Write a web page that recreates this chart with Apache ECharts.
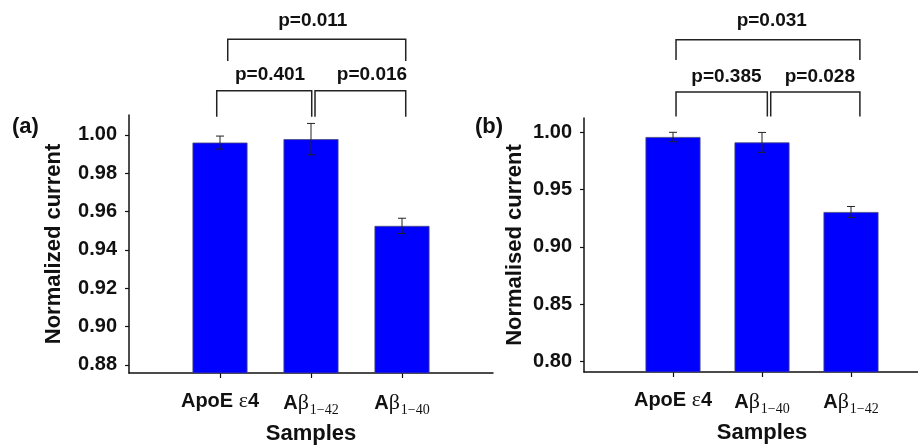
<!DOCTYPE html>
<html>
<head>
<meta charset="utf-8">
<script src="https://cdn.jsdelivr.net/npm/echarts@6/dist/echarts.min.js"></script>
<style>
  html, body { margin: 0; padding: 0; background: #fff; }
  #chart { width: 918px; height: 445px; }
</style>
</head>
<body>
<div id="chart"></div>
<script>
// panel (a)
const catsA = ['ApoE ε4', 'Aβ1-42', 'Aβ1-40'];
const valuesA = [0.996, 0.9978, 0.9525];
const errorsA = [0.0034, 0.0082, 0.004];
const ticksA = [0.88, 0.90, 0.92, 0.94, 0.96, 0.98, 1.00];
// brackets: [x from, x to, y top, y foot, label, label x]
const bracketsA = [
  [0.964, 2.008, 1.0231, 1.0095, 'p=0.401', 1.55],
  [2.044, 3.041, 1.0231, 1.0095, 'p=0.016', 2.67],
  [1.085, 3.041, 1.0499, 1.0386, 'p=0.011', 2.02]
];

// panel (b)
const catsB = ['ApoE ε4', 'Aβ1-40', 'Aβ1-42'];
const valuesB = [0.996, 0.9913, 0.9305];
const errorsB = [0.0041, 0.0087, 0.0048];
const ticksB = [0.80, 0.85, 0.90, 0.95, 1.00];
const bracketsB = [
  [1.034, 2.060, 1.0353, 1.0140, 'p=0.385', 1.60],
  [2.098, 3.100, 1.0353, 1.0140, 'p=0.028', 2.65],
  [1.034, 3.100, 1.0810, 1.0633, 'p=0.031', 2.11]
];

const BOLD = 'Liberation Sans';
const SERIF = 'Liberation Serif';
const INK = '#111';

function catLabel(name) {
  if (name.indexOf('ε') >= 0) return '{b|ApoE }{g|ε}{b|4}';
  const sub = name.split('β')[1].replace('-', '\u2212');
  return '{b|A}{g|β}{s|' + sub + '}';
}

const richX = {
  b: { fontFamily: BOLD, fontWeight: 'bold', fontSize: 20, color: INK },
  g: { fontFamily: SERIF, fontSize: 22, color: INK },
  s: { fontFamily: SERIF, fontSize: 14, color: INK, padding: [13, 0, 0, 1] }
};

function xAxisFor(gi, cats) {
  return {
    type: 'value', gridIndex: gi, min: 0, max: 4,
    name: 'Samples', nameLocation: 'middle', nameGap: 50,
    nameTextStyle: { fontFamily: BOLD, fontWeight: 'bold', fontSize: 22, color: INK },
    axisLine: { lineStyle: { color: INK, width: 1.5 } },
    axisTick: { customValues: [1, 2, 3], length: 5, lineStyle: { color: INK, width: 1.2 } },
    axisLabel: {
      customValues: [1, 2, 3], margin: 17, rich: richX,
      formatter: v => catLabel(cats[Math.round(v) - 1])
    },
    splitLine: { show: false }
  };
}

function yAxisFor(gi, ticks, min, max, name, gap) {
  return {
    type: 'value', gridIndex: gi, min: min, max: max,
    name: name, nameLocation: 'middle', nameGap: gap, nameRotate: 90,
    nameTextStyle: { fontFamily: BOLD, fontWeight: 'bold', fontSize: 22, color: INK },
    axisLine: { show: true, lineStyle: { color: INK, width: 1.5 } },
    axisTick: { customValues: ticks, length: 4, lineStyle: { color: INK, width: 1.2 } },
    axisLabel: {
      customValues: ticks, margin: 12,
      fontFamily: BOLD, fontWeight: 'bold', fontSize: 20, color: INK,
      formatter: v => v.toFixed(2)
    },
    splitLine: { show: false }
  };
}

function barSeries(gi, values) {
  return {
    type: 'bar', xAxisIndex: gi, yAxisIndex: gi, barWidth: 55,
    data: values.map((v, i) => [i + 1, v]),
    itemStyle: { color: '#0000ff', borderColor: '#4a4a7a', borderWidth: 0.8 },
    animation: false
  };
}

function errorSeries(gi, values, errors) {
  return {
    type: 'custom', xAxisIndex: gi, yAxisIndex: gi, z: 5,
    data: values.map((v, i) => [i + 1, v - errors[i], v + errors[i]]),
    renderItem: (params, api) => {
      const lo = api.coord([api.value(0), api.value(1)]);
      const hi = api.coord([api.value(0), api.value(2)]);
      const w = 4;
      const st = { stroke: '#222', lineWidth: 1 };
      return {
        type: 'group', children: [
          { type: 'line', shape: { x1: lo[0], y1: lo[1], x2: hi[0], y2: hi[1] }, style: st },
          { type: 'line', shape: { x1: lo[0] - w, y1: lo[1], x2: lo[0] + w, y2: lo[1] }, style: st },
          { type: 'line', shape: { x1: hi[0] - w, y1: hi[1], x2: hi[0] + w, y2: hi[1] }, style: st }
        ]
      };
    },
    animation: false
  };
}

function bracketSeries(gi, brackets) {
  return {
    type: 'custom', xAxisIndex: gi, yAxisIndex: gi, clip: false, z: 6,
    data: brackets.map(b => [b[0], b[1], b[2], b[3], b[5]]),
    renderItem: (params, api) => {
      const b = brackets[params.dataIndex];
      const a1 = api.coord([b[0], b[3]]);
      const a2 = api.coord([b[0], b[2]]);
      const a3 = api.coord([b[1], b[2]]);
      const a4 = api.coord([b[1], b[3]]);
      const t = api.coord([b[5], b[2]]);
      const gap = params.dataIndex === 2 ? 9 : 6;
      return {
        type: 'group', children: [
          { type: 'polyline', shape: { points: [a1, a2, a3, a4] },
            style: { stroke: '#222', lineWidth: 1.5, fill: null } },
          { type: 'text', x: t[0], y: t[1] - gap,
            style: { text: b[4], fill: INK, align: 'center', verticalAlign: 'bottom',
              font: 'bold 19px "Liberation Sans"' } }
        ]
      };
    },
    animation: false
  };
}

const chart = echarts.init(document.getElementById('chart'), null, { renderer: 'canvas' });
chart.setOption({
  backgroundColor: '#fff',
  animation: false,
  grid: [
    { left: 129, top: 115, right: 425, bottom: 72, outerBoundsMode: 'none' },
    // right panel's x axis runs past the picture edge, as in the source figure
    { left: 584, top: 118, right: -22, bottom: 73, outerBoundsMode: 'none' }
  ],
  xAxis: [xAxisFor(0, catsA), xAxisFor(1, catsB)],
  yAxis: [
    yAxisFor(0, ticksA, 0.8757, 1.0104, 'Normalized current', 64),
    yAxisFor(1, ticksB, 0.7907, 1.0126, 'Normalised current', 58)
  ],
  graphic: [
    { type: 'text', left: 12, top: 116, style: { text: '(a)', fill: INK, font: 'bold 22px "Liberation Sans"' } },
    { type: 'text', left: 475, top: 116, style: { text: '(b)', fill: INK, font: 'bold 22px "Liberation Sans"' } }
  ],
  series: [
    barSeries(0, valuesA), errorSeries(0, valuesA, errorsA), bracketSeries(0, bracketsA),
    barSeries(1, valuesB), errorSeries(1, valuesB, errorsB), bracketSeries(1, bracketsB)
  ]
});
</script>
</body>
</html>
